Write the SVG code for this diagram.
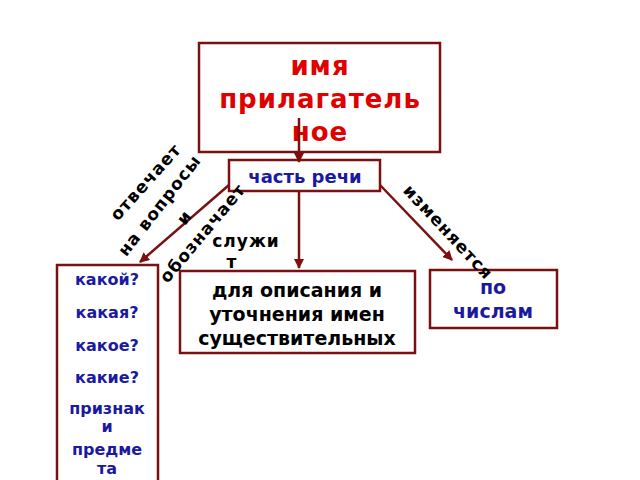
<svg xmlns="http://www.w3.org/2000/svg" width="640" height="480" viewBox="0 0 640 480">
<defs>
<style>
.b{fill:#fff;stroke:#7a1010;stroke-width:2.5}
.c{stroke:#7a1010;stroke-width:2.5;fill:none;marker-end:url(#a)}
text{font-family:"DejaVu Sans",sans-serif;font-weight:bold;text-anchor:middle}
.bl{fill:#1a1aa0}
.k{fill:#000}
</style>
<marker id="a" viewBox="0 0 10 10" refX="9" refY="5" markerWidth="4" markerHeight="4" orient="auto"><path d="M0,0L10,5L0,10z" fill="#7a1010"/></marker>
</defs>
<rect width="640" height="480" fill="#fff"/>
<g id="top"><rect class="b" x="199" y="43" width="241" height="109"/>
<text font-size="26" fill="#e00000" letter-spacing="1"><tspan x="320" y="75">имя</tspan><tspan x="320" y="108">прилагатель</tspan><tspan x="320" y="141">ное</tspan></text></g>
<g id="part"><rect class="b" x="229" y="160" width="151" height="31"/>
<text class="bl" font-size="18" x="305" y="183">часть речи</text></g>
<g id="left"><rect class="b" x="57" y="265" width="101" height="230"/>
<text class="bl" font-size="16"><tspan x="107" y="285">какой?</tspan><tspan x="107" y="318">какая?</tspan><tspan x="107" y="351">какое?</tspan><tspan x="107" y="383">какие?</tspan><tspan x="107" y="414">признак</tspan><tspan x="107" y="432">и</tspan><tspan x="107" y="455">предме</tspan><tspan x="107" y="474">та</tspan></text></g>
<g id="mid"><rect class="b" x="180" y="271" width="235" height="82"/>
<text class="k" font-size="19"><tspan x="297" y="297">для описания и</tspan><tspan x="297" y="321">уточнения имен</tspan><tspan x="297" y="345">существительных</tspan></text></g>
<g id="right"><rect class="b" x="430" y="270" width="127" height="58"/>
<text class="bl" font-size="19"><tspan x="493" y="294">по</tspan><tspan x="493" y="318">числам</tspan></text></g>
<g id="connectors">
<path class="c" d="M299,118V162"/>
<path class="c" d="M299,191V268"/>
<path class="c" d="M229,185L140,262"/>
<path class="c" d="M380,185L452,260"/>
</g>
<g id="labels" class="k" font-size="17" letter-spacing="1">
<text transform="translate(150,186) rotate(-48)">отвечает</text>
<text transform="translate(164,209) rotate(-52)">на вопросы</text>
<text transform="translate(189,221) rotate(-52)">и</text>
<text transform="translate(207,237) rotate(-50)">обозначает</text>
<text transform="translate(444,236) rotate(47)">изменяется</text>
<text x="246" y="247">служи</text>
<text x="232" y="268">т</text>
</g>
</svg>
